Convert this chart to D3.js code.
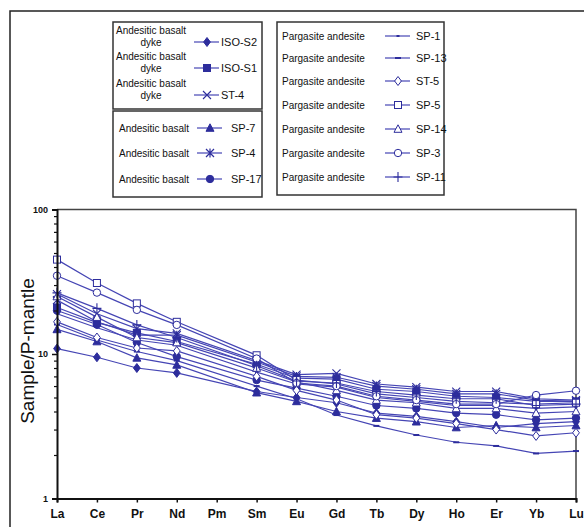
<!DOCTYPE html>
<html>
  <head>
    <title>REE spider diagram</title>
    <script src="https://d3js.org/d3.v7.min.js"></script>
    <style>
      body { margin: 0; background: #fff; }
      svg { display: block; font-family: "Liberation Sans", Arial, sans-serif; }
      .leg { font-size: 10px; fill: #111; }
      .name { font-size: 11px; fill: #111; }
    </style>
  </head>
  <body>
    <div id="chart"></div>
    <script>
      // Elements (Pm has no data)
      var elements = ["La", "Ce", "Pr", "Nd", "Pm", "Sm", "Eu", "Gd", "Tb", "Dy", "Ho", "Er", "Yb", "Lu"];
      var yTicks = [1, 10, 100];

      // Sample / primitive mantle values
      var isoS2 = [10.9, 9.5, 8.0, 7.4, null, 5.5, 5.0, 4.6, 3.9, 3.7, 3.4, 3.1, 3.3, 3.4];
      var isoS1 = [21, 16.5, 14, 12.2, null, 8.5, 6.8, 6.7, 5.7, 5.5, 5.1, 5.0, 4.7, 4.7];
      var st4   = [26, 19, 15, 13.9, null, 9.0, 7.2, 7.35, 6.2, 5.9, 5.5, 5.5, 4.9, 4.8];
      var sp7   = [14.8, 12.2, 9.4, 8.4, null, 5.4, 4.7, 4.0, 3.6, 3.4, 3.1, 3.2, 3.1, 3.2];
      var sp4   = [23.6, 16.7, 13.5, 13.5, null, 8.8, 7.0, 6.9, 6.0, 5.7, 5.3, 5.3, 4.8, 4.7];
      var sp17  = [20, 16, 12, 9.6, null, 6.6, 5.8, 5.1, 4.4, 4.2, 3.9, 3.8, 3.5, 3.6];
      var sp1   = [19, 15.2, 12.5, 11.5, null, 7.5, 6.2, 5.9, 5.0, 4.7, 4.4, 4.4, 4.2, 4.3];
      var sp13  = [16, 12.5, 10.4, 9.0, null, 6.0, 4.9, 3.78, 3.18, 2.75, 2.45, 2.31, 2.05, 2.13];
      var st5   = [16.7, 13, 11, 10.5, null, 7.0, 5.6, 4.8, 3.8, 3.6, 3.3, 3.0, 2.71, 2.85];
      var sp5   = [45, 31, 22.4, 16.7, null, 9.8, 6.6, 6.2, 5.3, 5.0, 4.7, 4.6, 4.5, 4.6];
      var sp14  = [25, 18, 13, 12, null, 8.0, 6.4, 5.6, 4.8, 4.6, 4.2, 4.2, 3.9, 4.0];
      var sp3   = [34.8, 26.6, 20.2, 15.9, null, 9.3, 6.3, 6.0, 5.1, 4.8, 4.5, 4.5, 5.2, 5.57];
      var sp11  = [26.5, 20.7, 15.9, 13.0, null, 8.3, 6.5, 6.3, 5.5, 5.2, 4.9, 4.9, 4.4, 4.5];

      var series = [
        { name: "ISO-S2", rock: "Andesitic basalt dyke", sym: "diamondF", values: isoS2 },
        { name: "ISO-S1", rock: "Andesitic basalt dyke", sym: "squareF", values: isoS1 },
        { name: "ST-4", rock: "Andesitic basalt dyke", sym: "x", values: st4 },
        { name: "SP-7", rock: "Andesitic basalt", sym: "triangleF", values: sp7 },
        { name: "SP-4", rock: "Andesitic basalt", sym: "asterisk", values: sp4 },
        { name: "SP-17", rock: "Andesitic basalt", sym: "circleF", values: sp17 },
        { name: "SP-1", rock: "Pargasite andesite", sym: "dot", values: sp1 },
        { name: "SP-13", rock: "Pargasite andesite", sym: "dash", values: sp13 },
        { name: "ST-5", rock: "Pargasite andesite", sym: "diamondO", values: st5 },
        { name: "SP-5", rock: "Pargasite andesite", sym: "squareO", values: sp5 },
        { name: "SP-14", rock: "Pargasite andesite", sym: "triangleO", values: sp14 },
        { name: "SP-3", rock: "Pargasite andesite", sym: "circleO", values: sp3 },
        { name: "SP-11", rock: "Pargasite andesite", sym: "plus", values: sp11 }
      ];

      var lineColor = "#4545b4";
      var markColor = "#2d2d9c";

      var svg = d3.select("#chart").append("svg")
        .attr("width", 584)
        .attr("height", 527);

      // outer frame
      svg.append("rect")
        .attr("x", 10).attr("y", 11)
        .attr("width", 600).attr("height", 540)
        .attr("fill", "none").attr("stroke", "#222").attr("stroke-width", 1.5);

      var x = d3.scalePoint().domain(elements).range([57, 576]);
      var y = d3.scaleLog().domain([1, 100]).range([498.5, 209.5]);

      // top/right frame of plot
      svg.append("path")
        .attr("d", "M57,209.5H576V498.5")
        .attr("fill", "none").attr("stroke", "#444").attr("stroke-width", 1.5);

      // draw one marker
      function drawSymbol(g, sym) {
        var s = 3.5;
        if (sym === "diamondF" || sym === "diamondO") {
          g.append("path").attr("d", "M0,-4.5L3.4,0L0,4.5L-3.4,0Z")
            .attr("fill", sym === "diamondF" ? markColor : "#fff")
            .attr("stroke", markColor).attr("stroke-width", 1);
        } else if (sym === "squareF" || sym === "squareO") {
          g.append("rect").attr("x", -s).attr("y", -s).attr("width", 2 * s).attr("height", 2 * s)
            .attr("fill", sym === "squareF" ? markColor : "#fff")
            .attr("stroke", markColor).attr("stroke-width", 1);
        } else if (sym === "triangleF" || sym === "triangleO") {
          g.append("path").attr("d", "M0,-4.2L4,3.3L-4,3.3Z")
            .attr("fill", sym === "triangleF" ? markColor : "#fff")
            .attr("stroke", markColor).attr("stroke-width", 1);
        } else if (sym === "circleF" || sym === "circleO") {
          g.append("circle").attr("r", 3.7)
            .attr("fill", sym === "circleF" ? markColor : "#fff")
            .attr("stroke", markColor).attr("stroke-width", 1);
        } else if (sym === "x") {
          g.append("path").attr("d", "M-4,-4L4,4M-4,4L4,-4")
            .attr("stroke", markColor).attr("stroke-width", 1.1);
        } else if (sym === "asterisk") {
          g.append("path").attr("d", "M-4,-4L4,4M-4,4L4,-4M0,-4.5V4.5")
            .attr("stroke", markColor).attr("stroke-width", 1.2);
        } else if (sym === "plus") {
          g.append("path").attr("d", "M0,-5V5M-4.5,0H4.5")
            .attr("stroke", markColor).attr("stroke-width", 1.1);
        } else if (sym === "dot") {
          g.append("rect").attr("x", -1.5).attr("y", -1).attr("width", 3).attr("height", 2)
            .attr("fill", markColor);
        } else if (sym === "dash") {
          g.append("rect").attr("x", -3).attr("y", -1).attr("width", 6).attr("height", 2)
            .attr("fill", markColor);
        }
      }

      var line = d3.line()
        .x(function(d) { return x(d.el); })
        .y(function(d) { return y(d.v); });

      // lines first, then markers
      series.forEach(function(s) {
        var pts = elements.map(function(el, i) { return { el: el, v: s.values[i] }; })
          .filter(function(d) { return d.v != null; });
        s.pts = pts;
        svg.append("path")
          .datum(pts)
          .attr("d", line)
          .attr("fill", "none")
          .attr("stroke", lineColor)
          .attr("stroke-width", 1.2);
      });

      series.forEach(function(s) {
        s.pts.forEach(function(d) {
          var g = svg.append("g").attr("transform", "translate(" + x(d.el) + "," + y(d.v) + ")");
          drawSymbol(g, s.sym);
        });
      });

      // y axis
      var yAxis = svg.append("g")
        .attr("transform", "translate(57,0)")
        .call(d3.axisLeft(y).tickValues(yTicks).tickSize(5).tickFormat(d3.format("d")));
      yAxis.select(".domain").attr("stroke", "#111").attr("stroke-width", 2);
      yAxis.selectAll(".tick line").attr("stroke", "#111").attr("stroke-width", 1.5);
      yAxis.selectAll(".tick text")
        .attr("font-family", "Liberation Sans, Arial, sans-serif")
        .attr("font-size", 9).attr("font-weight", "bold").attr("fill", "#111").attr("dx", -1);

      var minor = [];
      [1, 10].forEach(function(b) { for (var k = 2; k <= 9; k++) minor.push(b * k); });
      var yMinor = svg.append("g")
        .attr("transform", "translate(57,0)")
        .call(d3.axisLeft(y).tickValues(minor).tickSize(3).tickFormat(""));
      yMinor.select(".domain").remove();
      yMinor.selectAll(".tick line").attr("stroke", "#111").attr("stroke-width", 1.2);

      // x axis
      var xAxis = svg.append("g")
        .attr("transform", "translate(0,498.5)")
        .call(d3.axisBottom(x).tickSize(4).tickPadding(7));
      xAxis.select(".domain").attr("stroke", "#111").attr("stroke-width", 2);
      xAxis.selectAll(".tick line").attr("stroke", "#111").attr("stroke-width", 1.5);
      xAxis.selectAll(".tick text")
        .attr("font-family", "Liberation Sans, Arial, sans-serif")
        .attr("font-size", 12).attr("font-weight", "bold").attr("fill", "#111");

      // y axis title
      svg.append("text")
        .attr("transform", "translate(34,351) rotate(-90)")
        .attr("text-anchor", "middle")
        .attr("font-size", 19)
        .attr("fill", "#111")
        .text("Sample/P-mantle");

      // legend boxes
      function legendBox(bx, by, bw, bh) {
        svg.append("rect").attr("x", bx).attr("y", by).attr("width", bw).attr("height", bh)
          .attr("fill", "#fff").attr("stroke", "#333").attr("stroke-width", 1.5);
      }
      legendBox(113, 22, 149, 87);
      legendBox(113, 111, 149, 86);
      legendBox(277, 22, 167, 173);

      function legendSample(lx, ly, sym) {
        svg.append("line").attr("x1", lx - 13).attr("x2", lx + 12).attr("y1", ly).attr("y2", ly)
          .attr("stroke", lineColor).attr("stroke-width", 1.2);
        var g = svg.append("g").attr("transform", "translate(" + lx + "," + ly + ")");
        drawSymbol(g, sym);
      }

      // box 1: dyke samples
      var rowsA = [42, 68, 95];
      series.slice(0, 3).forEach(function(s, i) {
        var t = svg.append("text").attr("class", "leg").attr("text-anchor", "middle")
          .attr("x", 151).attr("y", rowsA[i] - 8);
        t.append("tspan").attr("x", 151).text("Andesitic basalt");
        t.append("tspan").attr("x", 151).attr("dy", 12).text("dyke");
        legendSample(207, rowsA[i], s.sym);
        svg.append("text").attr("class", "name").attr("x", 221).attr("y", rowsA[i] + 4).text(s.name);
      });

      // box 2: basalts
      var rowsB = [128, 153, 179];
      series.slice(3, 6).forEach(function(s, i) {
        svg.append("text").attr("class", "leg").attr("text-anchor", "middle")
          .attr("x", 154).attr("y", rowsB[i] + 3.5).text(s.rock);
        legendSample(210, rowsB[i], s.sym);
        svg.append("text").attr("class", "name").attr("x", 231).attr("y", rowsB[i] + 4).text(s.name);
      });

      // box 3: pargasite andesites
      var rowsC = [36, 58, 81, 105, 129, 153, 177];
      series.slice(6).forEach(function(s, i) {
        svg.append("text").attr("class", "leg")
          .attr("x", 282).attr("y", rowsC[i] + 3.5).text(s.rock);
        legendSample(398, rowsC[i], s.sym);
        svg.append("text").attr("class", "name").attr("x", 416).attr("y", rowsC[i] + 4).text(s.name);
      });
    </script>
  </body>
</html>
